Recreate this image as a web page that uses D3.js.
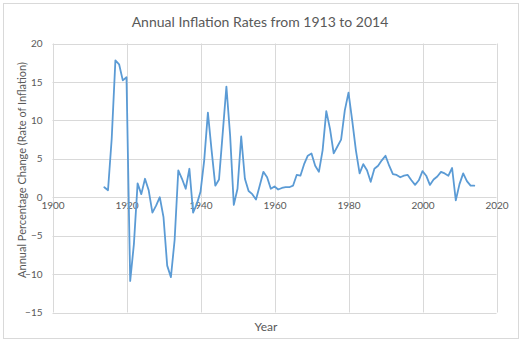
<!DOCTYPE html>
<html>
<head>
<meta charset="utf-8">
<script src="https://cdn.jsdelivr.net/npm/d3@7"></script>
<style>
  html, body { margin: 0; padding: 0; background: #fff; }
  svg { display: block; }
</style>
</head>
<body>
<svg id="chart" width="523" height="342"></svg>
<script>
const years = d3.range(1914, 2015);
const inflation = [
  1.3, 0.9, 7.6, 17.8, 17.3, 15.2, 15.6, -10.9, -6.1, 1.8,
  0.4, 2.4, 0.9, -2.0, -1.1, 0.0, -2.6, -8.9, -10.4, -5.6,
  3.5, 2.4, 1.1, 3.7, -2.0, -0.9, 0.7, 4.8, 11.0, 6.1,
  1.5, 2.3, 8.3, 14.4, 8.1, -1.0, 1.1, 7.9, 2.4, 0.8,
  0.4, -0.3, 1.5, 3.3, 2.6, 1.1, 1.4, 1.0, 1.2, 1.3,
  1.3, 1.5, 2.9, 2.8, 4.3, 5.4, 5.7, 4.1, 3.3, 6.1,
  11.2, 8.9, 5.7, 6.6, 7.5, 11.3, 13.6, 10.0, 6.1, 3.1,
  4.3, 3.5, 2.0, 3.7, 4.1, 4.8, 5.4, 4.1, 3.0, 2.9,
  2.6, 2.8, 2.9, 2.2, 1.6, 2.2, 3.4, 2.8, 1.6, 2.3,
  2.7, 3.3, 3.1, 2.8, 3.8, -0.4, 1.7, 3.1, 2.1, 1.5,
  1.5
];
const xTicks = [1900, 1920, 1940, 1960, 1980, 2000, 2020];
const yTicks = [-15, -10, -5, 0, 5, 10, 15, 20];
const titleText = "Annual Inflation Rates from 1913 to 2014";
const xTitle = "Year";
const yTitle = "Annual Percentage Change (Rate of Inflation)";

const svg = d3.select("#chart");
const font = "Lato, 'Open Sans', 'Liberation Sans', sans-serif";
const textColor = "#595959";
const gridColor = "#d9d9d9";

// outer border
svg.append("rect")
  .attr("x", 3.5).attr("y", 3.5).attr("width", 515).attr("height", 335)
  .attr("fill", "#fff").attr("stroke", "#d9d9d9").attr("stroke-width", 1);

const x = d3.scaleLinear().domain([1900, 2020]).range([52.5, 496.5]);
const y = d3.scaleLinear().domain([-15, 20]).range([312.5, 43.5]);

// gridlines
svg.append("g").selectAll("line").data(yTicks).join("line")
  .attr("x1", x(1900)).attr("x2", x(2020))
  .attr("y1", d => Math.round(y(d)) + 0.5).attr("y2", d => Math.round(y(d)) + 0.5)
  .attr("stroke", gridColor).attr("stroke-width", 1);
svg.append("g").selectAll("line").data(xTicks).join("line")
  .attr("x1", d => Math.round(x(d)) + 0.5).attr("x2", d => Math.round(x(d)) + 0.5)
  .attr("y1", y(20)).attr("y2", y(-15))
  .attr("stroke", gridColor).attr("stroke-width", 1);

// y tick labels
const yAxis = d3.axisLeft(y).tickValues(yTicks).tickSize(0).tickPadding(10);
const gy = svg.append("g").attr("transform", `translate(${x(1900)},0)`).call(yAxis);
gy.select(".domain").remove();
gy.selectAll("text").attr("fill", textColor).style("font-family", font).style("font-size", "10px");

// x tick labels (axis crosses at 0)
const xAxis = d3.axisBottom(x).tickValues(xTicks).tickFormat(d3.format("d")).tickSize(0).tickPadding(5);
const gx = svg.append("g").attr("transform", `translate(0,${y(0)})`).call(xAxis);
gx.select(".domain").remove();
gx.selectAll("text").attr("fill", textColor).style("font-family", font).style("font-size", "10px");

// line
const line = d3.line().x((d, i) => x(years[i])).y(d => y(d));
svg.append("path").datum(inflation)
  .attr("d", line).attr("fill", "none")
  .attr("stroke", "#5b9bd5").attr("stroke-width", 1.8)
  .attr("stroke-linejoin", "round").attr("stroke-linecap", "round");

// title
svg.append("text").attr("x", 260).attr("y", 27).attr("text-anchor", "middle")
  .attr("fill", textColor).style("font-family", font).style("font-size", "14px")
  .text(titleText);

// axis titles
svg.append("text").attr("x", 266).attr("y", 331).attr("text-anchor", "middle")
  .attr("fill", textColor).style("font-family", font).style("font-size", "12px")
  .text(xTitle);
svg.append("text").attr("transform", "translate(26,170) rotate(-90)").attr("text-anchor", "middle")
  .attr("fill", textColor).style("font-family", font).style("font-size", "11px")
  .text(yTitle);
</script>
</body>
</html>
